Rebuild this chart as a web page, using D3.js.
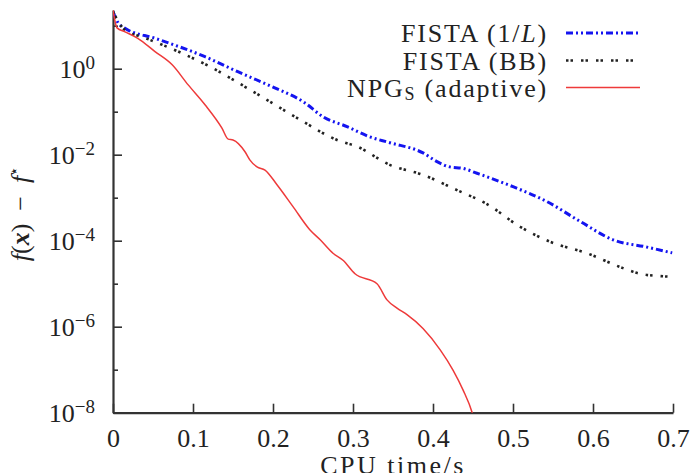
<!DOCTYPE html>
<html><head><meta charset="utf-8">
<script src="https://cdn.jsdelivr.net/npm/d3@7"></script>
<style>
body{margin:0;background:#fff}
svg{display:block}
</style>
</head><body>
<svg id="chart" width="699" height="473"></svg>
<script>
// ---- data ----
const timeFistaL = [0, 0.006, 0.015, 0.0525, 0.115, 0.156, 0.199, 0.24, 0.2625, 0.2925, 0.321, 0.346, 0.3875, 0.405, 0.421, 0.4375, 0.455, 0.471, 0.5, 0.5425, 0.584, 0.625, 0.6675, 0.699];
const gapFistaL  = [21, 12, 8.7, 5.1, 1.9, 0.85, 0.38, 0.16, 0.076, 0.045, 0.026, 0.019, 0.011, 6.9e-3, 5.2e-3, 4.8e-3, 3.7e-3, 2.9e-3, 1.8e-3, 8.1e-4, 2.8e-4, 1.05e-4, 7.1e-5, 5.2e-5];

const timeFistaBB = [0, 0.015, 0.04, 0.086, 0.124, 0.165, 0.2025, 0.2375, 0.28, 0.305, 0.346, 0.3875, 0.43, 0.4675, 0.509, 0.546, 0.5925, 0.6375, 0.659, 0.684, 0.699];
const gapFistaBB  = [21, 7.9, 5.2, 2.3, 1.05, 0.38, 0.145, 0.059, 0.022, 0.0155, 5.8e-3, 3.4e-3, 1.5e-3, 7.1e-4, 2.1e-4, 9.5e-5, 5.1e-5, 2.3e-5, 1.7e-5, 1.5e-5, 1.45e-5];

const timeNPGs = [0, 0.005, 0.015, 0.031, 0.0525, 0.074, 0.094, 0.115, 0.136, 0.144, 0.15, 0.165, 0.171, 0.18, 0.19, 0.205, 0.225, 0.246, 0.259, 0.275, 0.2875, 0.3025, 0.33, 0.3425, 0.355, 0.3675, 0.3875, 0.409, 0.425, 0.4375, 0.449, 0.452];
const gapNPGs  = [23, 8.9, 7.2, 5.1, 2.5, 1.23, 0.42, 0.145, 0.042, 0.023, 0.022, 0.0117, 7.6e-3, 5.2e-3, 4.4e-3, 2.0e-3, 6.2e-4, 1.8e-4, 1.05e-4, 5.1e-5, 3.5e-5, 1.7e-5, 1.0e-5, 4.2e-6, 2.7e-6, 1.9e-6, 9.1e-7, 2.9e-7, 9.8e-8, 3.4e-8, 1.0e-8, 6.3e-9];

const xTicks = [0, 0.1, 0.2, 0.3, 0.4, 0.5, 0.6, 0.7];
const xTickLabels = ["0", "0.1", "0.2", "0.3", "0.4", "0.5", "0.6", "0.7"];
const yMajorTicks = [1, 1e-2, 1e-4, 1e-6, 1e-8];
const yMajorExponents = ["0", "\u22122", "\u22124", "\u22126", "\u22128"];
const yMinorTicks = [10, 1e-1, 1e-3, 1e-5, 1e-7];

// ---- layout ----
const SERIF = "'Liberation Serif', 'DejaVu Serif', serif";
const svg = d3.select("#chart").style("font-family", SERIF);
const plotL = 113, plotR = 673, plotT = 10, plotB = 412.7;
const x = d3.scaleLinear().domain([0, 0.7]).range([plotL, plotR]);
const y = d3.scaleLog().domain([1e-8, 23.17]).range([plotB, plotT]);
const axisColor = "#333";
const textColor = "#222";

svg.append("defs").append("clipPath").attr("id", "clip")
  .append("rect").attr("x", plotL).attr("y", 0).attr("width", 699 - plotL).attr("height", plotB);

// x axis
const gx = svg.append("g").attr("transform", `translate(0,${plotB})`)
  .call(d3.axisBottom(x).tickValues(xTicks).tickSizeInner(-9).tickSizeOuter(0)
    .tickFormat((d, i) => xTickLabels[i]));
gx.attr("font-family", SERIF).attr("font-size", 26);
gx.select(".domain").attr("stroke", axisColor).attr("stroke-width", 2.2);
gx.selectAll(".tick line").attr("stroke", axisColor).attr("stroke-width", 1.6);
gx.selectAll(".tick text").attr("y", 34.5).attr("dy", 0)
  .style("font-family", SERIF).style("font-size", "26px").attr("fill", textColor);

// y axis (major)
const gy = svg.append("g").attr("transform", `translate(${plotL},0)`)
  .call(d3.axisLeft(y).tickValues(yMajorTicks).tickSizeInner(-9).tickSizeOuter(0).tickPadding(18));
gy.attr("font-family", SERIF).attr("font-size", 26);
gy.select(".domain").attr("stroke", axisColor).attr("stroke-width", 2.2);
gy.selectAll(".tick line").attr("stroke", axisColor).attr("stroke-width", 1.6);
gy.selectAll(".tick text").style("font-family", SERIF).style("font-size", "26px").attr("fill", textColor)
  .attr("dy", 8.5)
  .each(function (d, i) {
    const t = d3.select(this);
    t.text(null);
    t.append("tspan").text("10");
    t.append("tspan").attr("dy", -9).style("font-size", "19px").text(yMajorExponents[i]);
  });

// y axis (minor)
const gym = svg.append("g").attr("transform", `translate(${plotL},0)`)
  .call(d3.axisLeft(y).tickValues(yMinorTicks).tickSizeInner(-5).tickSizeOuter(0).tickFormat(""));
gym.select(".domain").remove();
gym.selectAll(".tick line").attr("stroke", axisColor).attr("stroke-width", 1.6);

// axis titles
svg.append("text").attr("x", (plotL + plotR) / 2).attr("y", 474)
  .attr("text-anchor", "middle").style("font-family", SERIF).style("font-size", "26px")
  .attr("letter-spacing", 2.5).attr("fill", textColor)
  .text("CPU time/s");

const yl = svg.append("text").attr("transform", "translate(29,214) rotate(-90)")
  .attr("text-anchor", "middle").style("font-family", SERIF).style("font-size", "26px").attr("fill", textColor);
yl.append("tspan").style("font-style", "italic").text("f");
yl.append("tspan").text("(");
yl.append("tspan").style("font-style", "italic").style("font-weight", "bold").text("x");
yl.append("tspan").text(")\u2002\u2212\u2002");
yl.append("tspan").style("font-style", "italic").text("f");
yl.append("tspan").attr("dy", -10).style("font-size", "15px").style("font-family", "'DejaVu Serif', serif").text("\u22c6");

// series
const series = [
  { t: timeFistaL, v: gapFistaL, color: "#1414f0", width: 3, dash: "7,3,2,3,2,3" },
  { t: timeFistaBB, v: gapFistaBB, color: "#222", width: 2.6, dash: "2.5,2,2.5,8" },
  { t: timeNPGs, v: gapNPGs, color: "#ee3a3a", width: 1.5, dash: null }
];
const line = d3.line().x(d => x(d[0])).y(d => y(d[1])).curve(d3.curveMonotoneX);
const plot = svg.append("g").attr("clip-path", "url(#clip)");
series.forEach(s => {
  plot.append("path").datum(s.t.map((t, i) => [t, s.v[i]]))
    .attr("d", line).attr("fill", "none")
    .attr("stroke", s.color).attr("stroke-width", s.width)
    .attr("stroke-dasharray", s.dash);
});

// legend
const legendRows = [33, 60.5, 87.5];
const lg = svg.append("g");
function legendText(row) {
  return lg.append("text").attr("x", 548).attr("y", legendRows[row] + 9).attr("text-anchor", "end")
    .style("font-family", SERIF).style("font-size", "26px").attr("letter-spacing", 1.8).attr("fill", textColor);
}
const t1 = legendText(0);
t1.append("tspan").text("FISTA (1/");
t1.append("tspan").style("font-style", "italic").text("L");
t1.append("tspan").text(")");
legendText(1).text("FISTA (BB)");
const t3 = legendText(2);
t3.append("tspan").text("NPG");
t3.append("tspan").style("font-size", "18px").attr("dy", 3).text("S");
t3.append("tspan").attr("dy", -3).text(" (adaptive)");
series.forEach((s, i) => {
  lg.append("line").attr("x1", 566).attr("x2", 640)
    .attr("y1", legendRows[i]).attr("y2", legendRows[i])
    .attr("stroke", s.color).attr("stroke-width", s.width)
    .attr("stroke-dasharray", s.dash);
});
</script>
</body></html>
